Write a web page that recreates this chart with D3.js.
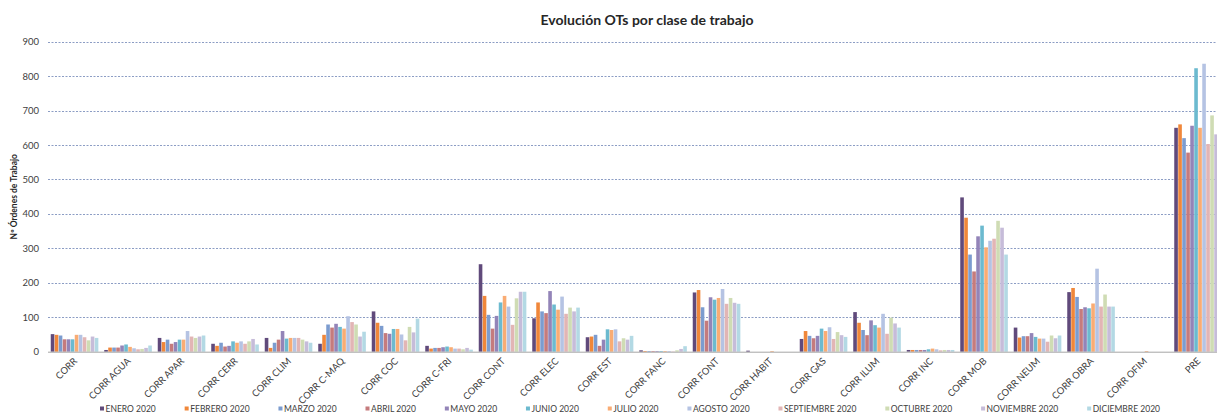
<!DOCTYPE html>
<html>
<head>
<meta charset="utf-8">
<script src="https://cdn.jsdelivr.net/npm/d3@7"></script>
<style>
  html, body { margin: 0; padding: 0; background: #ffffff; }
  svg { display: block; }
  text { font-family: Lato, "Open Sans", "Liberation Sans", sans-serif; }
</style>
</head>
<body>
<svg id="chart" width="1217" height="414"></svg>
<script>
// ---------- data ----------
const categories = ["CORR","CORR AGUA","CORR APAR","CORR CERR","CORR CLIM","CORR C-MAQ","CORR COC","CORR C-FRI",
  "CORR CONT","CORR ELEC","CORR EST","CORR FANC","CORR FONT","CORR HABIT","CORR GAS","CORR ILUM","CORR INC",
  "CORR MOB","CORR NEUM","CORR OBRA","CORR OFIM","PRE"];
const months = ["ENERO 2020","FEBRERO 2020","MARZO 2020","ABRIL 2020","MAYO 2020","JUNIO 2020","JULIO 2020",
  "AGOSTO 2020","SEPTIEMBRE 2020","OCTUBRE 2020","NOVIEMBRE 2020","DICIEMBRE 2020"];
const monthColors = ["#604a7b","#f0873a","#7c9ccf","#c57b7d","#9384b8","#6cbacf","#f9ac74","#b5c3e3",
  "#e2b5b5","#cfdcb4","#c6bcd9","#b3d9e4"];
// values per category, one number per month (ENERO..DICIEMBRE)
const valCORR  = [51,49,47,36,36,36,49,49,42,33,44,40];
const valAGUA  = [5,12,12,12,18,21,14,10,7,8,11,18];
const valAPAR  = [40,28,35,23,28,35,35,60,44,40,44,47];
const valCERR  = [23,17,26,15,17,30,26,30,23,30,37,21];
const valCLIM  = [40,11,26,35,60,38,40,40,40,35,30,26];
const valCMAQ  = [23,49,79,70,81,72,67,103,86,79,44,58];
const valCOC   = [117,84,75,54,52,66,66,50,33,72,56,96];
const valCFRI  = [17,9,11,11,13,15,13,9,9,7,11,6];
const valCONT  = [254,162,107,67,104,143,162,131,78,155,174,174];
const valELEC  = [97,143,117,112,176,137,122,160,110,128,117,128];
const valEST   = [42,44,49,17,35,65,63,65,30,39,35,46];
const valFANC  = [4,2,2,2,2,2,2,2,1,4,8,16];
const valFONT  = [172,179,129,90,158,151,156,182,139,156,142,139];
const valHABIT = [3,0,0,0,0,0,2,0,0,0,0,0];
const valGAS   = [37,60,46,39,46,67,60,71,37,57,48,43];
const valILUM  = [115,84,63,48,91,77,70,110,52,99,82,70];
const valINC   = [5,5,5,5,5,7,9,7,4,5,5,5];
const valMOB   = [448,389,282,233,335,366,303,322,328,380,360,282];
const valNEUM  = [70,41,45,45,54,43,38,38,29,47,39,47];
const valOBRA  = [173,185,159,124,129,126,140,241,131,166,131,131];
const valOFIM  = [0,0,0,0,0,0,2,0,0,0,0,0];
const valPRE   = [650,660,620,578,656,823,650,836,603,686,631,640];
const seriesByCategory = [valCORR,valAGUA,valAPAR,valCERR,valCLIM,valCMAQ,valCOC,valCFRI,valCONT,valELEC,valEST,
  valFANC,valFONT,valHABIT,valGAS,valILUM,valINC,valMOB,valNEUM,valOBRA,valOFIM,valPRE];
const yTicks = [0,100,200,300,400,500,600,700,800,900];
const titleText = "Evolución OTs por clase de trabajo";
const yTitle = "Nº Órdenes de Trabajo";

// ---------- layout ----------
const svg = d3.select("#chart");
const plot = { left: 48, right: 1225, top: 41.7, bottom: 351.7 };

const x0 = d3.scaleBand().domain(categories).range([plot.left, plot.right]).padding(0);
const gap = 5.5;
const x1 = d3.scaleBand().domain(months).range([gap / 2, x0.bandwidth() - gap / 2]).padding(0);
const y = d3.scaleLinear().domain([0, 900]).range([plot.bottom, plot.top]);
const color = d3.scaleOrdinal().domain(months).range(monthColors);

// gridlines
const yAxis = d3.axisLeft(y).tickValues(yTicks).tickSize(0).tickPadding(9).tickFormat(d3.format("d"));
const gy = svg.append("g").attr("transform", `translate(${plot.left},0)`).call(yAxis);
gy.select(".domain").remove();
gy.selectAll("text").attr("font-size", 9.5).attr("fill", "#404040");

svg.append("g").selectAll("line").data(yTicks.filter(d => d > 0)).join("line")
  .attr("x1", plot.left).attr("x2", 1217)
  .attr("y1", d => Math.round(y(d)) + 0.5).attr("y2", d => Math.round(y(d)) + 0.5)
  .attr("stroke", "#8c9dc4").attr("stroke-width", 1).attr("stroke-dasharray", "2,1.5");

// bars
const groups = svg.append("g").selectAll("g").data(categories).join("g")
  .attr("transform", d => `translate(${x0(d)},0)`);
groups.selectAll("rect").data((c, i) => months.map((m, j) => ({ m, v: seriesByCategory[i][j] })))
  .join("rect")
  .attr("x", d => x1(d.m))
  .attr("width", x1.bandwidth() - 0.4)
  .attr("y", d => y(d.v))
  .attr("height", d => y(0) - y(d.v))
  .attr("fill", d => color(d.m));

// x axis
const xAxis = d3.axisBottom(x0).tickSize(0).tickPadding(0);
const gx = svg.append("g").attr("transform", `translate(0,${plot.bottom})`).call(xAxis);
gx.select(".domain").attr("d", `M${plot.left},0.5H1217`).attr("stroke", "#a6a6a6");
gx.selectAll("text")
  .attr("font-size", 9.5).attr("fill", "#404040")
  .attr("text-anchor", "end").attr("dy", 0).attr("y", 0)
  .attr("transform", "translate(3,10) rotate(-45)");

// y title
svg.append("text")
  .attr("transform", `translate(17,${(plot.top + plot.bottom) / 2}) rotate(-90)`)
  .attr("text-anchor", "middle").attr("font-size", 8.5).attr("font-weight", "bold").attr("fill", "#262626")
  .text(yTitle);

// title
svg.append("text").attr("x", 647).attr("y", 25).attr("text-anchor", "middle")
  .attr("font-size", 14).attr("font-weight", "bold").attr("fill", "#262626").text(titleText);

// legend
const legend = svg.append("g").attr("transform", "translate(0,409)");
const items = legend.selectAll("g").data(months).join("g");
items.append("rect").attr("x", 0).attr("y", -2.5).attr("width", 4).attr("height", 4).attr("fill", d => color(d));
items.append("text").attr("x", 5.5).attr("y", 3).attr("font-size", 8.5).attr("fill", "#404040").text(d => d);
const widths = [];
items.each(function() { widths.push(5.5 + d3.select(this).select("text").node().getComputedTextLength()); });
const legStart = 100, legEnd = 1160;
const legGap = (legEnd - legStart - d3.sum(widths)) / (months.length - 1);
let cx = legStart;
items.attr("transform", (d, i) => { const t = `translate(${cx},0)`; cx += widths[i] + legGap; return t; });
</script>
</body>
</html>
